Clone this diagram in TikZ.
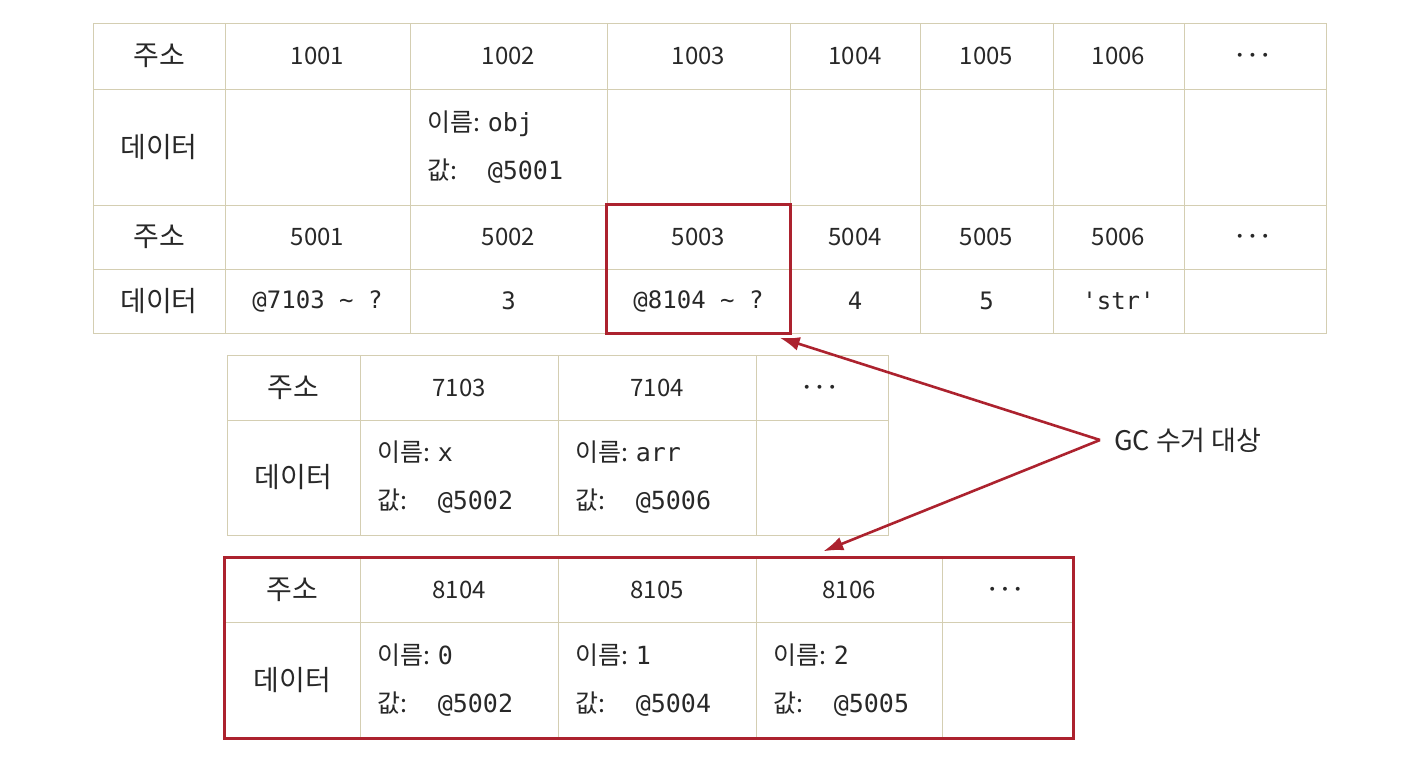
\documentclass[tikz,border=0pt]{standalone}
\usepackage{fontspec}
\setmainfont{Noto Sans CJK KR}
\setmonofont{DejaVu Sans Mono}
\usetikzlibrary{fit,calc,arrows.meta}
\definecolor{gridc}{RGB}{212,206,178}
\definecolor{gcred}{RGB}{172,34,46}
\definecolor{ink}{RGB}{40,40,40}
\newcommand\mkcell[6]{\node[cell, minimum width={(#4-#2)*1pt}, minimum height={(#5-#3)*1pt}] (#1) at ({(#2+#4)/2},{(#3+#5)/2}) {#6};}
\newcommand\mkpair[7]{\mkcell{#1}{#2}{#3}{#4}{#5}{}\node[pairtext, anchor=west] (#1t) at ([xshift=18pt]#1.west) {\makebox[60pt][l]{이름:}\texttt{#6}\\\makebox[60pt][l]{값:}\texttt{#7}};}
\newcommand\mdots{{\fontsize{24}{24}\selectfont$\boldsymbol{\cdots}$}}
\newcommand\kh[1]{{\fontsize{28}{30}\selectfont #1}}
\usepackage{amsmath,bm}
\renewcommand\mdots{{\fontsize{24}{24}\selectfont$\bm{\cdots}$}}
\begin{document}
\begin{tikzpicture}[x=1pt,y=-1pt,
  cell/.style={draw=gridc, line width=0.8pt, inner sep=0pt, text=ink, font=\fontsize{24}{28}\selectfont},
  pairtext/.style={inner sep=0pt, align=left, text=ink, font=\fontsize{25}{48}\selectfont},
  redbox/.style={draw=gcred, line width=2.6pt, inner sep=0pt},
  gcarrow/.style={draw=gcred, line width=2.6pt, -{Latex[length=20pt,width=14pt]}}]
\useasboundingbox (0,0) rectangle (1406,760);
% ---- top table ----
\mkcell{a0}{93}{23}{225}{89}{\kh{주소}}
\mkcell{a1}{225}{23}{410}{89}{1001}
\mkcell{a2}{410}{23}{607}{89}{1002}
\mkcell{a3}{607}{23}{790}{89}{1003}
\mkcell{a4}{790}{23}{920}{89}{1004}
\mkcell{a5}{920}{23}{1053}{89}{1005}
\mkcell{a6}{1053}{23}{1184}{89}{1006}
\mkcell{a7}{1184}{23}{1326}{89}{\mdots}
\mkcell{b0}{93}{89}{225}{205}{\kh{데이터}}
\mkcell{b1}{225}{89}{410}{205}{}
\mkpair{b2}{410}{89}{607}{205}{obj}{@5001}
\mkcell{b3}{607}{89}{790}{205}{}
\mkcell{b4}{790}{89}{920}{205}{}
\mkcell{b5}{920}{89}{1053}{205}{}
\mkcell{b6}{1053}{89}{1184}{205}{}
\mkcell{b7}{1184}{89}{1326}{205}{}
\mkcell{c0}{93}{205}{225}{269}{\kh{주소}}
\mkcell{c1}{225}{205}{410}{269}{5001}
\mkcell{c2}{410}{205}{607}{269}{5002}
\mkcell{c3}{607}{205}{790}{269}{5003}
\mkcell{c4}{790}{205}{920}{269}{5004}
\mkcell{c5}{920}{205}{1053}{269}{5005}
\mkcell{c6}{1053}{205}{1184}{269}{5006}
\mkcell{c7}{1184}{205}{1326}{269}{\mdots}
\mkcell{d0}{93}{269}{225}{333}{\kh{데이터}}
\mkcell{d1}{225}{269}{410}{333}{\texttt{@7103 \textasciitilde{} ?}}
\mkcell{d2}{410}{269}{607}{333}{\texttt{3}}
\mkcell{d3}{607}{269}{790}{333}{\texttt{@8104 \textasciitilde{} ?}}
\mkcell{d4}{790}{269}{920}{333}{\texttt{4}}
\mkcell{d5}{920}{269}{1053}{333}{\texttt{5}}
\mkcell{d6}{1053}{269}{1184}{333}{\texttt{'str'}}
\mkcell{d7}{1184}{269}{1326}{333}{}
% ---- middle table ----
\mkcell{e0}{227}{355}{360}{420}{\kh{주소}}
\mkcell{e1}{360}{355}{558}{420}{7103}
\mkcell{e2}{558}{355}{756}{420}{7104}
\mkcell{e3}{756}{355}{888}{420}{\mdots}
\mkcell{f0}{227}{420}{360}{535}{\kh{데이터}}
\mkpair{f1}{360}{420}{558}{535}{x}{@5002}
\mkpair{f2}{558}{420}{756}{535}{arr}{@5006}
\mkcell{f3}{756}{420}{888}{535}{}
% ---- bottom table ----
\mkcell{g0}{225}{558}{360}{622}{\kh{주소}}
\mkcell{g1}{360}{558}{558}{622}{8104}
\mkcell{g2}{558}{558}{756}{622}{8105}
\mkcell{g3}{756}{558}{942}{622}{8106}
\mkcell{g4}{942}{558}{1073}{622}{\mdots}
\mkcell{h0}{225}{622}{360}{738}{\kh{데이터}}
\mkpair{h1}{360}{622}{558}{738}{0}{@5002}
\mkpair{h2}{558}{622}{756}{738}{1}{@5004}
\mkpair{h3}{756}{622}{942}{738}{2}{@5005}
\mkcell{h4}{942}{622}{1073}{738}{}
% ---- GC highlights ----
\node[redbox, fit=(c3)(d3)] (gcA) {};
\node[redbox, fit=(g0)(h4)] (gcB) {};
\node[anchor=west, inner sep=0pt, text=ink, font=\fontsize{27}{30}\selectfont] (gc) at (1114,440) {GC 수거 대상};
\coordinate (v) at (1100,440);
\coordinate (tA) at ($(gcA.south east)+(-12,3)$);
\coordinate (tB) at ($(gcB.north west)+(600,-5)$);
\draw[gcarrow] (v) -- (tA);
\draw[gcarrow] (v) -- (tB);
\end{tikzpicture}
\end{document}
